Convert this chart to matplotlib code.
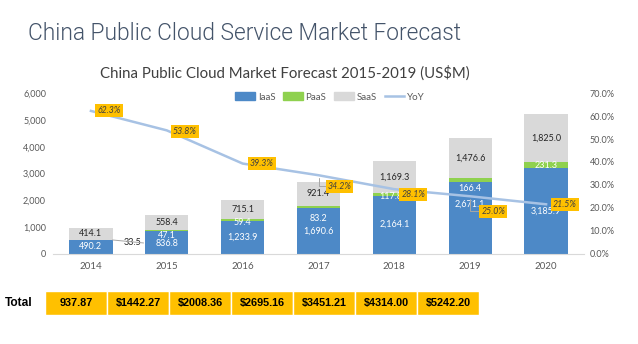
import numpy as np
import matplotlib
matplotlib.use("Agg")
import matplotlib.pyplot as plt
from matplotlib.patches import Patch
from matplotlib.lines import Line2D
from matplotlib.ticker import FuncFormatter

# ── data ───────────────────────────────────────────────────────────────────
years = ["2014", "2015", "2016", "2017", "2018", "2019", "2020"]
iaas = [490.2, 836.8, 1233.9, 1690.6, 2164.1, 2671.1, 3185.9]
paas = [33.5, 47.1, 59.4, 83.2, 117.8, 166.4, 231.3]
saas = [414.1, 558.4, 715.1, 921.4, 1169.3, 1476.6, 1825.0]
yoy = [0.623, 0.538, 0.393, 0.342, 0.281, 0.250, 0.215]
totals = [937.87, 1442.27, 2008.36, 2695.16, 3451.21, 4314.00, 5242.20]
total_labels = ["937.87", "$1442.27", "$2008.36", "$2695.16",
                "$3451.21", "$4314.00", "$5242.20"]

# ── styling ────────────────────────────────────────────────────────────────
C_IAAS = "#4d89c7"
C_PAAS = "#8fd14f"
C_SAAS = "#d9d9d9"
C_YOY = "#a7c2e4"
C_GOLD = "#ffc000"
C_TICK = "#595959"
C_LEAD = "#a6a6a6"
FONT = ["Lato", "DejaVu Sans"]
TITLE_FONT = ["Roboto", "Lato", "DejaVu Sans"]
BOLD = ["Liberation Sans", "DejaVu Sans"]

plt.rcParams["font.family"] = FONT

# label nudges in pixels (dx, dy); dy positive = up
paas_off = [(42, -3), (0, -5), (0, -3), (0, -11), (-4, -2), (0, -9), (0, 0)]
iaas_off = [(0, 0), (0, -1), (0, 0), (0, 0), (0, 0), (0, 14), (0, 0)]
yoy_off = [(18, 0), (18, -1), (19, 0), (21, -11), (19, -5), (23, -15), (19, 0)]
yoy_leader = [False, False, False, True, False, True, False]

W, H = 638, 344
fig = plt.figure(figsize=(W / 100, H / 100), dpi=100)
fig.patch.set_facecolor("white")

fig.text(28 / W, 1 - 33 / H, "China Public Cloud Service Market Forecast",
         fontsize=16.4, color="#44546a", va="center", ha="left",
         family=TITLE_FONT, fontweight=300)
fig.text(285 / W, 1 - 73 / H,
         "China Public Cloud Market Forecast 2015-2019 (US$M)",
         fontsize=10.8, color="#404040", va="center", ha="center")

ax = fig.add_axes([53 / W, 90.5 / H, 531 / W, 160.2 / H])
x = np.arange(len(years))
bw = 0.57
ax.bar(x, iaas, bw, color=C_IAAS, zorder=2)
ax.bar(x, paas, bw, bottom=iaas, color=C_PAAS, zorder=2)
base_s = np.array(iaas) + np.array(paas)
ax.bar(x, saas, bw, bottom=base_s, color=C_SAAS, zorder=2)

ax.set_xlim(-0.5, len(years) - 0.5)
ax.set_ylim(0, 6000)
ax.set_yticks(range(0, 6001, 1000))
ax.yaxis.set_major_formatter(FuncFormatter(lambda v, _: f"{v:,.0f}"))
ax.set_xticks(x)
ax.set_xticklabels(years)
ax.tick_params(axis="y", length=0, pad=5, labelsize=6.5, labelcolor=C_TICK)
ax.tick_params(axis="x", length=0, pad=6, labelsize=7, labelcolor=C_TICK)
for s in ("top", "left", "right"):
    ax.spines[s].set_visible(False)
ax.spines["bottom"].set_color("#d9d9d9")
ax.spines["bottom"].set_zorder(3)

# segment labels
for i in range(len(years)):
    dx, dy = iaas_off[i]
    ax.annotate(f"{iaas[i]:,.1f}", (x[i], iaas[i] / 2), xytext=(dx, dy),
                textcoords="offset pixels", ha="center", va="center",
                fontsize=6.5, color="white", zorder=5)
    ax.annotate(f"{saas[i]:,.1f}", (x[i], base_s[i] + saas[i] / 2),
                ha="center", va="center", fontsize=6.5, color="#262626",
                zorder=5)
    dx, dy = paas_off[i]
    outside = dx > 20
    ax.annotate(f"{paas[i]:,.1f}", (x[i], iaas[i] + paas[i] / 2),
                xytext=(dx, dy), textcoords="offset pixels",
                ha="center", va="center", fontsize=6.5,
                color="#262626" if outside else "white", zorder=5)

# leader line for the 2014 PaaS label sitting outside its bar
ax.annotate("", (x[0] + bw / 2, iaas[0] + paas[0] / 2), xytext=(31, -3),
            textcoords="offset pixels",
            arrowprops=dict(arrowstyle="-", color=C_LEAD, lw=0.7,
                            shrinkA=0, shrinkB=0), zorder=5)

# YoY line on the secondary axis
ax2 = ax.twinx()
ax2.set_position(ax.get_position())
ax2.plot(x, yoy, color=C_YOY, lw=1.8, zorder=3)
ax2.set_ylim(0, 0.7)
ax2.set_yticks(np.arange(0, 0.71, 0.1))
ax2.yaxis.set_major_formatter(FuncFormatter(lambda v, _: f"{v * 100:.1f}%"))
ax2.tick_params(axis="y", length=0, pad=4, labelsize=6.5, labelcolor=C_TICK)
for s in ("top", "left", "right", "bottom"):
    ax2.spines[s].set_visible(False)

for i in range(len(years)):
    dx, dy = yoy_off[i]
    arrow = None
    if yoy_leader[i]:
        arrow = dict(arrowstyle="-", color=C_LEAD, lw=0.7, shrinkA=0,
                     shrinkB=2, connectionstyle="angle,angleA=180,angleB=90")
    ax2.annotate(f"{yoy[i] * 100:.1f}%", (x[i], yoy[i]), xytext=(dx, dy),
                 textcoords="offset pixels", ha="center", va="center",
                 fontsize=6.3, style="italic", color="#404040", zorder=6,
                 arrowprops=arrow,
                 bbox=dict(boxstyle="square,pad=0.22", fc=C_GOLD, ec="none"))

# legend
handles = [Patch(color=C_IAAS), Patch(color=C_PAAS), Patch(color=C_SAAS),
           Line2D([], [], color=C_YOY, lw=1.8)]
fig.legend(handles, ["IaaS", "PaaS", "SaaS", "YoY"], ncol=4,
           loc="center", bbox_to_anchor=(330 / W, 1 - 97 / H),
           frameon=False, fontsize=7, handlelength=2.0, handleheight=0.8,
           handletextpad=0.3, columnspacing=0.8, labelcolor=C_TICK)

# totals row
fig.text(5 / W, 1 - 303 / H, "Total", fontsize=8.6, fontweight="bold",
         family=BOLD, va="center", ha="left", color="black")
tax = fig.add_axes([45 / W, 29 / H, 434 / W, 24 / H])
tax.bar(range(len(totals)), [1] * len(totals), width=1, align="edge",
        color=C_GOLD, edgecolor="white", linewidth=1)
tax.set_xlim(0, len(totals))
tax.set_ylim(0, 1)
tax.axis("off")
for i, lab in enumerate(total_labels):
    tax.text(i + 0.5, 0.5, lab, ha="center", va="center", fontsize=7.8,
             fontweight="bold", family=BOLD, color="black")

fig.savefig("out.png", dpi=100)
